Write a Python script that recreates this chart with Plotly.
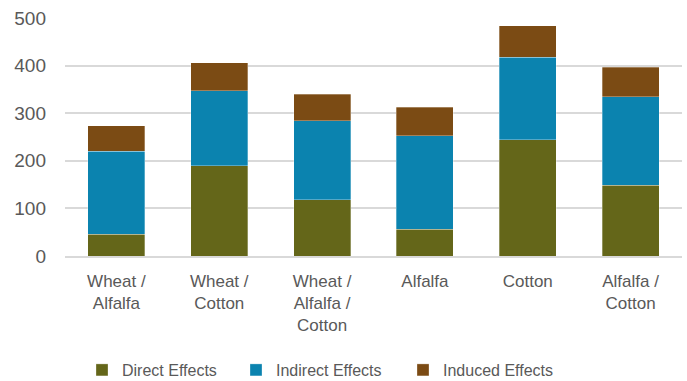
import plotly.graph_objects as go

categories = ["Wheat /<br>Alfalfa", "Wheat /<br>Cotton", "Wheat /<br>Alfalfa /<br>Cotton",
              "Alfalfa", "Cotton", "Alfalfa /<br>Cotton"]
direct = [46, 190, 118, 56, 244, 149]
indirect = [174, 157, 166, 197, 174, 186]
induced = [54, 59, 56, 59, 66, 62]

series = [
    ("Direct Effects", direct, "#646619"),
    ("Indirect Effects", indirect, "#0B83AF"),
    ("Induced Effects", induced, "#7B4B14"),
]

font_family = "Liberation Sans, Arial, sans-serif"
text_color = "#595959"
W, H = 687, 381

# one legend per series so each entry can sit at its own spot along the bottom
legend_left_px = [82, 236, 403]
legend_names = ["legend", "legend2", "legend3"]

fig = go.Figure()
for (name, vals, color), lg in zip(series, legend_names):
    fig.add_trace(go.Bar(
        x=categories, y=vals, name=name, legend=lg,
        marker=dict(color=color, line=dict(color="rgba(255,255,255,0.5)", width=0.6)),
    ))

legend_common = dict(
    orientation="h", xref="container", yref="container",
    xanchor="left", yanchor="middle", y=1 - 370 / H,
    font=dict(size=16, color=text_color), itemwidth=30,
    bgcolor="rgba(0,0,0,0)",
)
legend_layout = {
    lg: dict(legend_common, x=px / W) for lg, px in zip(legend_names, legend_left_px)
}

fig.update_layout(
    barmode="stack",
    bargap=0.445,
    width=W, height=H,
    margin=dict(l=65, r=5, t=18, b=125, autoexpand=False),
    paper_bgcolor="white", plot_bgcolor="white",
    font=dict(family=font_family, size=17, color=text_color),
    showlegend=True,
    yaxis=dict(
        range=[0, 500], dtick=100, showgrid=True, gridcolor="#D9D9D9", gridwidth=1.5,
        zeroline=False, showline=False, ticks="", ticklabelstandoff=18,
        tickfont=dict(size=19, color=text_color),
    ),
    xaxis=dict(
        showline=True, linecolor="#D9D9D9", linewidth=1.5, ticks="",
        ticklabelstandoff=9,
        tickfont=dict(size=17, color=text_color),
    ),
    **legend_layout,
)

fig.write_html("out.html")
